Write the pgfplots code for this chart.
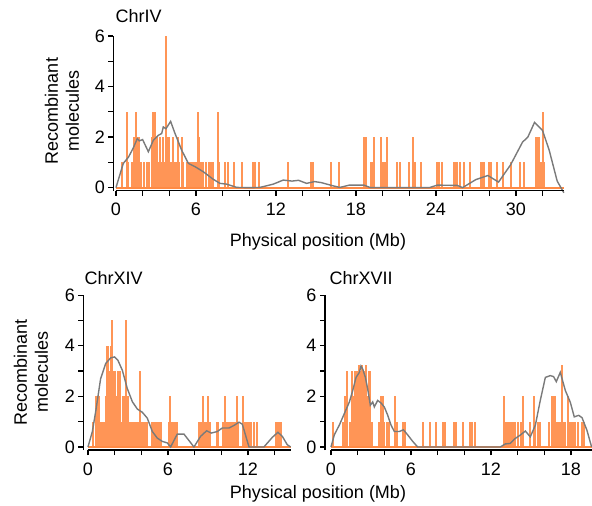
\documentclass[border=0pt]{standalone}
\usepackage{fontspec}
\setmainfont{Liberation Sans}
\usepackage{pgfplots}
\pgfplotsset{compat=1.18}
\definecolor{spk}{RGB}{255,138,68}
\definecolor{dens}{RGB}{122,122,122}
\newcommand{\fs}{\fontsize{18bp}{21bp}\selectfont}
\pgfplotsset{
  chr/.style={
    x=13.33bp, y=25.3bp,
    axis lines=left, axis line style={line width=1.3bp, -},
    x axis line style={draw=none},
    ymin=-0.12, ymax=6,
    ytick={0,2,4,6}, minor ytick={1,3,5},
    tick align=outside, major tick length=5bp, minor tick length=5bp,
    every tick/.style={black, line width=1.3bp},
    tick label style={font=\fs},
    xticklabel style={yshift=-4bp},
    /pgf/number format/assume math mode=true,
    clip=false, anchor=south west,
  },
  spikes/.style={ycomb, no markers, color=spk, line width=2bp, opacity=0.9},
  base/.style={no markers, color=spk, line width=2bp},
  dline/.style={no markers, color=dens, line width=1.4bp},
}

\begin{document}
\begin{tikzpicture}
\path[use as bounding box] (0,0) rectangle (592bp,-506bp);

% ChrIV
\begin{axis}[chr, at={(113.3bp,-190.7bp)}, xmin=-0.2, xmax=33.6,
  xtick={0,6,...,30}, minor xtick={0,2,...,32}]
\addplot[base] coordinates {(0,0)(33.6,0)};
\addplot[spikes] coordinates {
(0.43,1)(0.8,3)(0.88,1)(1.18,1)(1.35,2)(1.48,3)(1.55,2)(1.65,1)(1.75,2)(1.88,1)
(2.13,1)(2.3,1)(2.5,1)(2.7,2)(2.78,3)(2.93,3)(3.0,1)(3.08,2)(3.2,1)(3.3,2)
(3.43,1)(3.5,2)(3.63,1)(3.78,6)(3.85,2)(3.93,2)(4.0,2)(4.13,1)(4.25,2)(4.38,1)
(4.5,1)(4.63,2)(4.75,1)(4.95,2)(5.05,1)(5.3,1)(5.5,1)(5.63,1)(5.8,1)(5.95,1)
(6.05,1)(6.15,3)(6.25,2)(6.38,1)(6.55,1)(6.75,1)(7.0,1)(7.13,1)(7.3,1)(7.68,3)
(7.75,1)(8.2,1)(8.38,1)(8.88,1)(9.45,1)(10.3,1)(10.4,1)(10.75,1)(12.9,1)(14.65,1)
(14.8,1)(16.1,1)(16.7,1)(18.62,2)(18.75,2)(19.1,1)(19.2,1)(19.32,2)(19.9,2)(20.05,1)
(20.2,1)(20.3,2)(21.05,1)(21.3,1)(22.0,1)(22.25,2)(22.45,1)(22.9,1)(24.1,1)(24.25,1)
(24.45,1)(25.35,1)(25.45,1)(25.6,1)(25.8,1)(26.1,1)(26.55,1)(27.4,1)(27.5,1)(27.6,1)
(28.0,1)(28.1,1)(28.6,1)(29.0,1)(29.6,1)(30.3,1)(30.6,1)(31.5,2)(31.62,2)(31.75,2)
(31.85,1)(32.02,3)(32.12,1)};
\addplot[dline] coordinates {
(0,0)(0.55,0.96)(0.93,1.2)(1.3,1.57)(1.6,1.94)(1.75,1.85)(2.0,1.9)(2.43,1.42)
(2.8,1.87)(3.18,2.07)(3.43,2.14)(3.55,2.4)(3.75,2.33)(4.1,2.62)(4.43,2.14)
(4.93,1.48)(5.43,0.96)(5.93,0.83)(6.55,0.63)(7.3,0.33)(7.8,0.17)(8.3,0.14)
(9.05,0.01)(10.05,0)(10.8,0.01)(11.8,0.14)(12.55,0.3)(13.2,0.26)(13.7,0.29)
(14.3,0.17)(14.9,0.24)(15.4,0.2)(16.3,0.07)(16.8,0.01)(17.5,0.1)(18.6,0.1)
(19.1,0)(23.5,0)(24.1,0.1)(25.6,0.09)(26,0)(27,0.32)(27.9,0.48)(28.7,0.22)
(29.6,0.9)(30.5,1.8)(30.9,2.0)(31.4,2.58)(32.0,2.26)(32.5,1.48)(33.1,0.26)(33.6,-0.2)};
\draw[line width=1.3bp] (axis cs:0,-0.12) -- (axis cs:33.6,-0.12);
\end{axis}

% ChrXIV
\begin{axis}[chr, at={(83.3bp,-450bp)}, xmin=-0.35, xmax=15.2,
  xtick={0,6,12}, minor xtick={0,2,...,14}]
\addplot[base] coordinates {(0,0)(15.2,0)};
\addplot[spikes] coordinates {
(0.4,1)(0.58,2)(0.7,2)(0.82,2)(0.95,1)(1.12,1)(1.2,1)(1.35,2)(1.45,4)(1.52,4)
(1.6,3)(1.68,3)(1.75,4)(1.8,5)(1.88,3)(1.95,3)(2.05,3)(2.15,2)(2.25,3)(2.32,2)
(2.4,3)(2.5,1)(2.6,2)(2.7,2)(2.8,1)(2.88,5)(2.95,1)(3.02,2)(3.15,1)(3.28,1)
(3.4,1)(3.52,1)(3.65,1)(3.8,1)(3.93,3)(4.03,1)(4.15,1)(4.3,1)(4.45,1)(4.78,1)
(4.9,1)(5.05,1)(5.18,1)(5.35,1)(5.45,1)(6.08,1)(6.15,2)(6.25,1)(6.4,1)(6.52,1)
(6.68,1)(8.3,1)(8.5,1)(8.6,2)(8.72,1)(8.85,1)(9.0,2)(9.15,1)(9.7,1)(9.78,1)
(10.15,1)(10.25,2)(10.35,1)(10.45,1)(10.58,1)(10.7,1)(10.82,1)(10.95,1)(11.05,1)
(11.15,2)(11.25,1)(11.65,2)(11.75,1)(11.95,1)(12.08,1)(12.25,1)(12.45,1)(12.65,1)
(14.08,1)(14.2,1)(14.33,1)(14.45,1)};
\addplot[dline] coordinates {
(0,0)(0.33,0.61)(0.58,1.4)(0.95,2.7)(1.33,3.3)(1.7,3.52)(2.0,3.56)(2.25,3.42)
(2.58,3.03)(2.95,2.31)(3.33,1.79)(3.7,1.5)(4.08,1.37)(4.45,1.14)(4.83,0.61)
(5.2,0.35)(5.58,0.22)(5.95,0.16)(6.2,0)(6.7,0.51)(7.2,0.51)(7.95,0)(8.45,0.42)
(8.9,0.64)(9.25,0.55)(9.7,0.61)(10.08,0.75)(10.58,0.75)(10.95,0.85)(11.33,0.98)
(11.58,0.9)(12.08,0)(13.2,0)(13.83,0.38)(14.25,0.58)(14.58,0.42)(14.95,0.09)(15.2,0)};
\draw[line width=1.3bp] (axis cs:0,-0.12) -- (axis cs:15.2,-0.12);
\end{axis}

% ChrXVII
\begin{axis}[chr, at={(325bp,-450bp)}, xmin=-0.45, xmax=19.55,
  xtick={0,6,12,18}, minor xtick={0,2,...,18}]
\addplot[base] coordinates {(0,0)(19.55,0)};
\addplot[spikes] coordinates {
(0.18,1)(0.88,1)(1.08,2)(1.18,3)(1.43,1)(1.58,3)(1.68,2)(1.8,3)(1.88,1)(1.95,3)
(2.05,2)(2.12,3.25)(2.2,3)(2.28,2)(2.35,3.25)(2.42,1)(2.5,3)(2.58,1)(2.65,3.25)
(2.72,2)(2.82,3)(2.95,3)(3.05,1)(3.62,1)(3.78,2)(3.88,2)(4.0,1)(4.2,1)(4.38,1)
(4.78,2)(4.92,1)(5.38,1)(5.52,1)(6.9,1)(7.4,1)(7.9,1)(8.4,1)(8.52,1)(9.2,1)
(9.35,1)(9.9,1)(10.45,1)(10.55,1)(10.83,1)(12.95,2)(13.08,1)(13.2,1)(13.32,1)
(13.45,1)(13.58,1)(13.7,1)(13.82,1)(14.05,1)(14.25,1)(14.38,2)(14.9,1)(15.2,2)
(15.32,1)(15.5,1)(15.65,1)(16.38,1)(16.55,2)(16.7,2)(16.78,2)(16.95,1)(17.1,1)
(17.2,1)(17.35,3.25)(17.45,1)(17.58,1)(17.75,2)(17.83,1)(18.0,1)(18.13,1)
(18.28,1)(18.5,1)(18.83,1)(18.95,1)};
\addplot[dline] coordinates {
(0,0)(0.25,0.48)(0.63,0.87)(1.0,1.32)(1.38,1.78)(1.63,2.23)(1.88,2.75)(2.13,2.95)
(2.25,3.2)(2.38,3.08)(2.58,2.75)(2.75,2.3)(2.95,1.65)(3.13,1.78)(3.25,1.58)
(3.5,1.84)(3.75,1.74)(4.0,1.58)(4.25,1.26)(4.5,0.87)(4.75,0.61)(5.13,0.61)
(5.43,0.68)(5.75,0.48)(6.13,0.22)(6.5,0)(12.7,0)(13.08,0.12)(13.45,0.14)
(13.83,0.34)(14.2,0.47)(14.58,0.63)(14.95,0.4)(15.33,0.86)(15.7,1.84)(16.08,2.75)
(16.45,2.82)(16.7,2.78)(16.9,2.58)(17.2,2.95)(17.58,2.23)(17.95,1.77)(18.25,1.19)
(18.58,1.25)(18.83,1.16)(19.2,0.66)(19.55,0)};
\draw[line width=1.3bp] (axis cs:0,-0.12) -- (axis cs:19.55,-0.12);
\end{axis}

% labels
\node[font=\fs, anchor=west] at (112bp,-16bp) {ChrIV};
\node[font=\fs, anchor=west] at (81bp,-278bp) {ChrXIV};
\node[font=\fs, anchor=west] at (326bp,-278bp) {ChrXVII};
\node[font=\fs, rotate=90, align=center] at (62bp,-111bp) {Recombinant\\molecules};
\node[font=\fs, rotate=90, align=center] at (31bp,-372bp) {Recombinant\\molecules};
\node[font=\fs] at (318bp,-242bp) {Physical position (Mb)};
\node[font=\fs] at (318bp,-494bp) {Physical position (Mb)};
\end{tikzpicture}
\end{document}
